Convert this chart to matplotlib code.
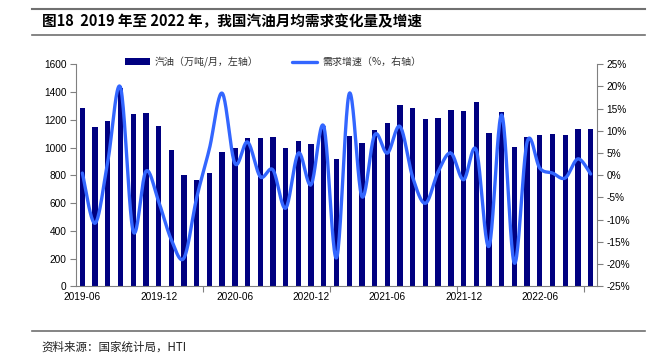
import numpy as np
import pandas as pd
import matplotlib
matplotlib.use('Agg')
import matplotlib.pyplot as plt
from matplotlib.lines import Line2D

plt.rcParams['font.family'] = ['Liberation Sans', 'Noto Sans CJK SC', 'DejaVu Sans']

# 数据：2019-06 至 2022-10，月度
months = pd.period_range('2019-06', '2022-10', freq='M').strftime('%Y-%m').tolist()
gasoline = [1288, 1149, 1188, 1430, 1243, 1252, 1156, 983, 803, 767, 817, 969, 995,
            1070, 1067, 1077, 998, 1048, 1026, 1140, 921, 1084, 1031, 1125, 1178,
            1308, 1288, 1207, 1212, 1272, 1260, 1325, 1108, 1257, 1007, 1077, 1094,
            1099, 1091, 1132, 1135]
growth = [0.5, -10.8, 3.1, 19.8, -12.6, 0.9, -5.9, -14.5, -18.6, -5.0, 6.0, 18.5, 2.7,
          7.5, -0.3, 1.2, -7.4, 5.0, -2.1, 11.0, -18.6, 18.4, -4.8, 9.1, 5.0,
          11.0, -0.5, -6.3, 0.8, 5.0, -1.0, 5.7, -16.0, 13.6, -19.8, 7.5, 1.6,
          0.5, -0.6, 3.7, 0.3]
tick_labels = ['2019-06', '2019-12', '2020-06', '2020-12', '2021-06', '2021-12', '2022-06']

cjk = ['Noto Sans CJK SC', 'DejaVu Sans']


# 平滑曲线（Catmull-Rom，类似 Excel 的平滑线）
def smooth(x, y, n=24):
    x = np.asarray(x, float)
    y = np.asarray(y, float)
    px = np.concatenate([[x[0]], x, [x[-1]]])
    py = np.concatenate([[y[0]], y, [y[-1]]])
    t = np.linspace(0, 1, n)
    xs, ys = [], []
    for i in range(1, len(px) - 2):
        for p, out in ((px, xs), (py, ys)):
            p0, p1, p2, p3 = p[i - 1], p[i], p[i + 1], p[i + 2]
            out.append(0.5 * (2 * p1 + (-p0 + p2) * t
                              + (2 * p0 - 5 * p1 + 4 * p2 - p3) * t ** 2
                              + (-p0 + 3 * p1 - 3 * p2 + p3) * t ** 3))
    return np.concatenate(xs), np.concatenate(ys)


x = np.arange(len(months))

fig = plt.figure(figsize=(6.66, 3.64), dpi=100)
ax = fig.add_axes([76 / 666, 1 - 286.3 / 364, 521 / 666, 222 / 364])
ax2 = ax.twinx()

bars = ax.bar(x, gasoline, width=0.42, color='#000080', label='汽油（万吨/月，左轴）', zorder=2)
sx, sy = smooth(x, growth)
line, = ax2.plot(sx, sy, color='#3366ff', lw=2.4, solid_capstyle='round',
                 label='需求增速（%，右轴）', zorder=3)

ax.set_xlim(-0.5, len(months) - 0.5)
ax.set_ylim(0, 1600)
ax.set_yticks(range(0, 1601, 200))
ax2.set_ylim(-25, 25)
ax2.set_yticks(range(-25, 26, 5))
ax2.set_yticklabels([f'{v}%' for v in range(-25, 26, 5)])

# x 轴：刻度线在分类边界，每 10 个；标签每 6 个月
ax.set_xticks(np.arange(9.5, len(months), 10))
ax.set_xticklabels([])
ax.set_xticks([months.index(m) for m in tick_labels], minor=True)
ax.set_xticklabels(tick_labels, minor=True)
ax.tick_params(axis='x', which='major', length=4, color='#808080', direction='out')
ax.tick_params(axis='x', which='minor', length=0, pad=4, labelsize=7.3)
ax.tick_params(axis='y', length=4, color='#808080', labelsize=7.3, pad=3)
ax2.tick_params(axis='y', length=4, color='#808080', labelsize=7.3, pad=3)

for a in (ax, ax2):
    a.spines['top'].set_visible(False)
    for s in ('left', 'right', 'bottom'):
        a.spines[s].set_color('#808080')
        a.spines[s].set_linewidth(0.8)
ax.spines['right'].set_visible(False)
ax2.spines['left'].set_visible(False)
ax2.spines['bottom'].set_visible(False)

leg = fig.legend(handles=[bars, line], loc='center left', ncol=2,
                 bbox_to_anchor=(125 / 666, 1 - 62 / 364), frameon=False,
                 prop={'family': cjk, 'size': 7.2}, handlelength=2.5, handleheight=0.6,
                 handletextpad=0.45, columnspacing=3.4, borderpad=0, borderaxespad=0)
for t in leg.get_texts():
    t.set_color('#333333')

# 标题、来源及分隔线
fig.text(42 / 666, 1 - 21.5 / 364, '图18  2019 年至 2022 年，我国汽油月均需求变化量及增速',
         family=cjk, fontsize=10.5, fontweight='bold', va='center', ha='left')
fig.text(41 / 666, 1 - 347 / 364, '资料来源：国家统计局，HTI',
         family=cjk, fontsize=8.3, va='center', ha='left', color='#222222')
for yy, lw in ((8.5, 1.5), (34.5, 1.2), (331, 1.2)):
    fig.add_artist(Line2D([32 / 666, 645 / 666], [1 - yy / 364, 1 - yy / 364],
                          color='#707070', lw=lw, transform=fig.transFigure))

fig.savefig('out.png', dpi=100)
